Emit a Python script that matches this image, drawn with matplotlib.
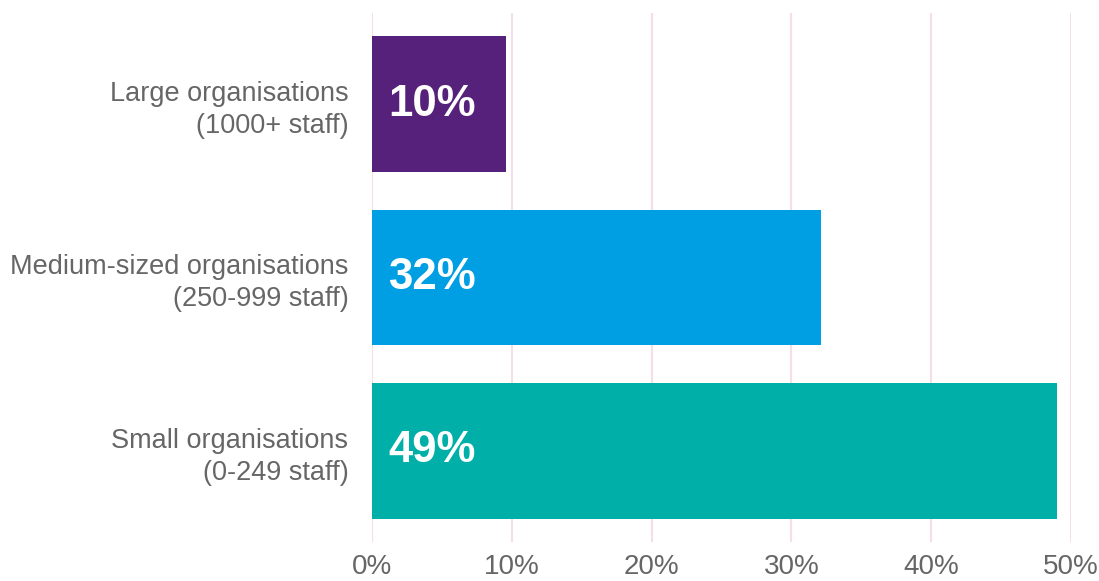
import matplotlib

matplotlib.use("Agg")
import matplotlib.pyplot as plt

categories = [
    "Large organisations\n(1000+ staff)",
    "Medium-sized organisations\n(250-999 staff)",
    "Small organisations\n(0-249 staff)",
]
shares = [9.6, 32.1, 49.0]
bar_colors = ["#55217a", "#009fe3", "#00b0a8"]
ticks = [0, 10, 20, 30, 40, 50]

TEXT = "#666666"
GRID = "#f6dde9"

plt.rcParams["font.family"] = ["Liberation Sans", "DejaVu Sans"]

fig = plt.figure(figsize=(10.99, 5.81), dpi=100)
ax = fig.add_axes([372 / 1099, 1 - 542 / 581, (1071 - 372) / 1099, (542 - 13) / 581])

pos = list(range(len(categories)))
ax.barh(pos, shares, height=0.784, color=bar_colors, zorder=2)

# value labels sit inside the bars, near the left end
for y, v in zip(pos, shares):
    ax.text(1.15, y, f"{round(v):.0f}%", color="white", fontsize=31.5,
            fontweight="bold", va="center", ha="left", zorder=3)

ax.set_xlim(0, 50)
ax.set_ylim(2.525, -0.525)
ax.set_xticks(ticks)
ax.set_xticklabels([f"{t}%" for t in ticks], fontsize=20)
ax.set_yticks(pos)
ax.set_yticklabels(categories, ha="right", linespacing=1.3, fontsize=19.5)

ax.grid(axis="x", color=GRID, lw=1.5, zorder=0)
for s in ax.spines.values():
    s.set_visible(False)
ax.tick_params(axis="both", length=0, labelcolor=TEXT)
ax.tick_params(axis="x", pad=9)
ax.tick_params(axis="y", pad=17)

fig.savefig("out.png", dpi=100, facecolor="white")
